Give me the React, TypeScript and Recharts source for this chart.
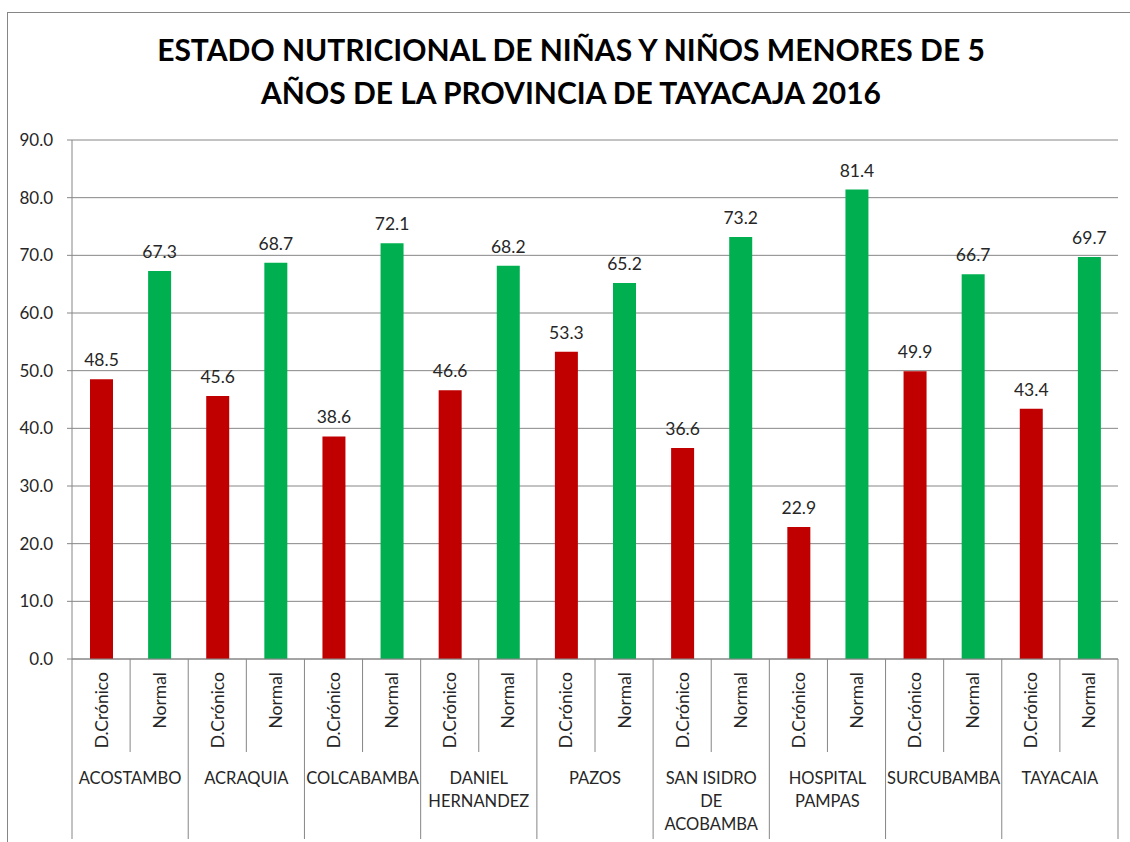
import { Bar, BarChart, CartesianGrid, Cell, LabelList, XAxis, YAxis } from "recharts";

const districts = [
  "ACOSTAMBO",
  "ACRAQUIA",
  "COLCABAMBA",
  "DANIEL\nHERNANDEZ",
  "PAZOS",
  "SAN ISIDRO\nDE\nACOBAMBA",
  "HOSPITAL\nPAMPAS",
  "SURCUBAMBA",
  "TAYACAIA",
];
const statuses = ["D.Crónico", "Normal"];
const cronico = [48.5, 45.6, 38.6, 46.6, 53.3, 36.6, 22.9, 49.9, 43.4];
const normal = [67.3, 68.7, 72.1, 68.2, 65.2, 73.2, 81.4, 66.7, 69.7];
const yTicks = [0, 10, 20, 30, 40, 50, 60, 70, 80, 90];

const statusColors: Record<string, string> = { "D.Crónico": "#C00000", Normal: "#00B050" };

const data = districts.flatMap((district, i) => [
  { key: `${i}-c`, district, status: statuses[0], value: cronico[i] },
  { key: `${i}-n`, district, status: statuses[1], value: normal[i] },
]);

const FONT = "Lato, 'Open Sans', sans-serif";
const W = 1130;
const H = 842;
const MARGIN = { top: 140, right: 12, bottom: 0, left: 0 };
const Y_WIDTH = 72;
const PLOT_W = W - MARGIN.right - MARGIN.left - Y_WIDTH;
const AXIS_COLOR = "#868686";
const TEXT_COLOR = "#262626";

function CategoryTick(props: any) {
  const { x, y, index } = props;
  const bw = PLOT_W / data.length;
  const row = data[index];
  if (!row) return null;
  const groupStart = index % 2 === 0;
  const left = x - bw / 2;
  return (
    <g>
      <line x1={left} x2={left} y1={y} y2={y + (groupStart ? 180 : 93)} stroke={AXIS_COLOR} />
      {index === data.length - 1 && (
        <line x1={x + bw / 2} x2={x + bw / 2} y1={y} y2={y + 180} stroke={AXIS_COLOR} />
      )}
      <text
        transform={`translate(${x}, ${y + 13}) rotate(-90)`}
        textAnchor="end"
        dominantBaseline="central"
        fontFamily={FONT}
        fontSize={17.5}
        fill={TEXT_COLOR}
      >
        {row.status}
      </text>
      {groupStart &&
        row.district.split("\n").map((line, k) => (
          <text
            key={k}
            x={x + bw / 2}
            y={y + 119 + k * 23}
            textAnchor="middle"
            dominantBaseline="central"
            fontFamily={FONT}
            fontSize={16.5}
            fill={TEXT_COLOR}
          >
            {line}
          </text>
        ))}
    </g>
  );
}

export default function App() {
  return (
    <div style={{ position: "absolute", left: 0, top: 0, width: W, height: H, overflow: "hidden", background: "#fff" }}>
      <div
        style={{
          position: "absolute",
          left: 7,
          top: 12,
          width: W,
          height: H,
          border: "1px solid #868686",
          boxSizing: "border-box",
        }}
      />
      <div
        style={{
          position: "absolute",
          left: 0,
          top: 28,
          width: 1142,
          textAlign: "center",
          fontFamily: FONT,
          fontWeight: 700,
          fontSize: 30,
          lineHeight: "43px",
          color: "#000",
        }}
      >
        ESTADO NUTRICIONAL DE NIÑAS Y NIÑOS MENORES DE 5
        <br />
        AÑOS DE LA PROVINCIA DE TAYACAJA 2016
      </div>
      <div style={{ position: "absolute", left: 0, top: 0 }}>
        <BarChart width={W} height={H} data={data} margin={MARGIN} barSize={23}>
          <CartesianGrid vertical={false} stroke={AXIS_COLOR} strokeDasharray="" />
          <XAxis
            dataKey="key"
            interval={0}
            height={183}
            tickLine={false}
            tickSize={0}
            tickMargin={0}
            axisLine={{ stroke: AXIS_COLOR }}
            tick={<CategoryTick />}
          />
          <YAxis
            width={Y_WIDTH}
            domain={[0, 90]}
            ticks={yTicks}
            tickFormatter={(v: number) => v.toFixed(1)}
            tickSize={5}
            tickMargin={14}
            tickLine={{ stroke: AXIS_COLOR }}
            axisLine={{ stroke: AXIS_COLOR }}
            tick={{ fontFamily: FONT, fontSize: 17, fill: TEXT_COLOR }}
          />
          <Bar dataKey="value" isAnimationActive={false}>
            {data.map((d) => (
              <Cell key={d.key} fill={statusColors[d.status]} />
            ))}
            <LabelList
              dataKey="value"
              position="top"
              offset={13}
              formatter={(v: any) => Number(v).toFixed(1)}
              style={{ fontFamily: FONT, fontSize: 17.5, fill: TEXT_COLOR }}
            />
          </Bar>
        </BarChart>
      </div>
    </div>
  );
}
